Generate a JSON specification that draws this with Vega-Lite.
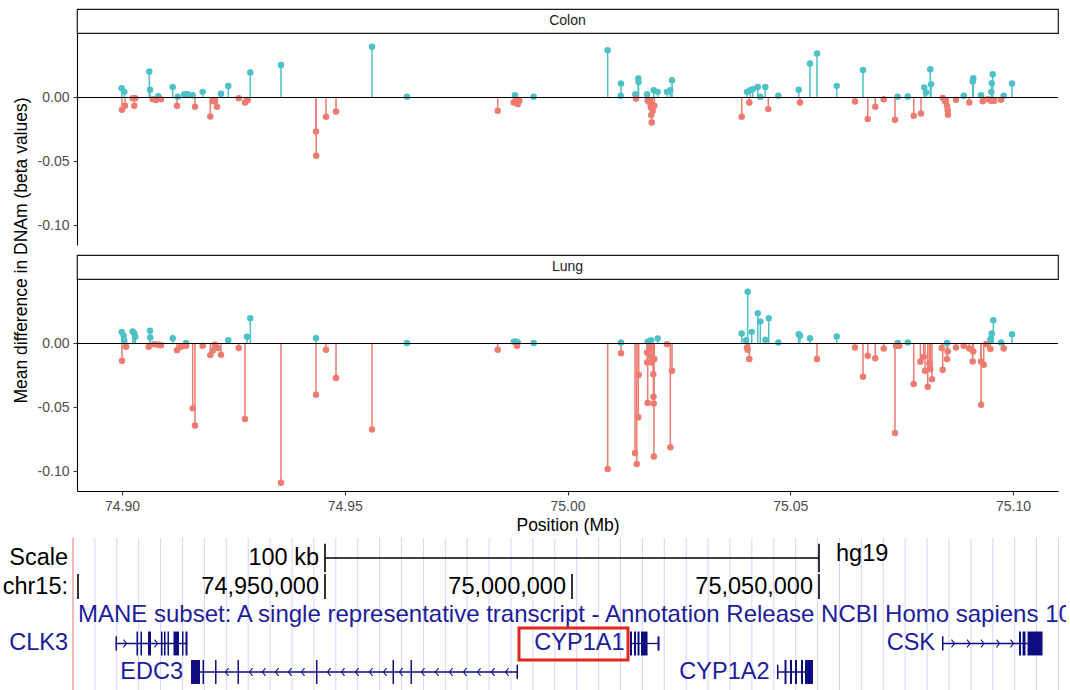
{
"$schema": "https://vega.github.io/schema/vega-lite/v6.json",
"padding": {"left": 2, "top": 8, "right": 0, "bottom": 0},
"config": {
  "font": "Liberation Sans",
  "view": {"stroke": null},
  "axis": {"grid": false, "domainColor": "#000000", "domainWidth": 1.1, "tickColor": "#333333", "tickWidth": 1.1, "tickSize": 4, "labelColor": "#4d4d4d", "labelFontSize": 14, "labelPadding": 4, "labelFont": "Liberation Sans", "titleFont": "Liberation Sans", "titleFontSize": 17.5, "titleFontWeight": "normal", "titleColor": "#000000"}
},
"datasets": {
  "pts": [
    {"t":"Colon","p":74.89993,"v":0.0073,"d":"up"},{"t":"Colon","p":74.90052,"v":0.0044,"d":"up"},{"t":"Colon","p":74.90613,"v":0.0203,"d":"up"},{"t":"Colon","p":74.90629,"v":0.0060,"d":"up"},{"t":"Colon","p":74.90815,"v":0.0010,"d":"up"},{"t":"Colon","p":74.91138,"v":0.0083,"d":"up"},{"t":"Colon","p":74.9125,"v":0.0005,"d":"up"},{"t":"Colon","p":74.91398,"v":0.0026,"d":"up"},{"t":"Colon","p":74.91475,"v":0.0026,"d":"up"},{"t":"Colon","p":74.91587,"v":0.0018,"d":"up"},{"t":"Colon","p":74.91811,"v":0.0044,"d":"up"},{"t":"Colon","p":74.92222,"v":0.0030,"d":"up"},{"t":"Colon","p":74.92386,"v":0.0090,"d":"up"},{"t":"Colon","p":74.9288,"v":0.0195,"d":"up"},{"t":"Colon","p":74.93569,"v":0.0255,"d":"up"},{"t":"Colon","p":74.95612,"v":0.0398,"d":"up"},{"t":"Colon","p":74.96397,"v":0.0005,"d":"up"},{"t":"Colon","p":74.98822,"v":0.0018,"d":"up"},{"t":"Colon","p":74.99241,"v":0.0005,"d":"up"},{"t":"Colon","p":75.00902,"v":0.0370,"d":"up"},{"t":"Colon","p":75.01201,"v":0.0109,"d":"up"},{"t":"Colon","p":75.01195,"v":0.0013,"d":"up"},{"t":"Colon","p":75.01589,"v":0.0148,"d":"up"},{"t":"Colon","p":75.01595,"v":0.0122,"d":"up"},{"t":"Colon","p":75.01522,"v":0.0026,"d":"up"},{"t":"Colon","p":75.01785,"v":0.0026,"d":"up"},{"t":"Colon","p":75.01935,"v":0.0057,"d":"up"},{"t":"Colon","p":75.02025,"v":0.0044,"d":"up"},{"t":"Colon","p":75.02233,"v":0.0044,"d":"up"},{"t":"Colon","p":75.02308,"v":0.0057,"d":"up"},{"t":"Colon","p":75.02346,"v":0.0135,"d":"up"},{"t":"Colon","p":75.04029,"v":0.0044,"d":"up"},{"t":"Colon","p":75.04103,"v":0.0057,"d":"up"},{"t":"Colon","p":75.04157,"v":0.0065,"d":"up"},{"t":"Colon","p":75.0427,"v":0.0083,"d":"up"},{"t":"Colon","p":75.04328,"v":0.0005,"d":"up"},{"t":"Colon","p":75.0444,"v":0.0083,"d":"up"},{"t":"Colon","p":75.04732,"v":0.0013,"d":"up"},{"t":"Colon","p":75.0519,"v":0.0060,"d":"up"},{"t":"Colon","p":75.05443,"v":0.0266,"d":"up"},{"t":"Colon","p":75.056,"v":0.0344,"d":"up"},{"t":"Colon","p":75.06043,"v":0.0091,"d":"up"},{"t":"Colon","p":75.06633,"v":0.0216,"d":"up"},{"t":"Colon","p":75.07412,"v":0.0005,"d":"up"},{"t":"Colon","p":75.07637,"v":0.0008,"d":"up"},{"t":"Colon","p":75.08009,"v":0.0078,"d":"up"},{"t":"Colon","p":75.08047,"v":0.0039,"d":"up"},{"t":"Colon","p":75.08144,"v":0.0221,"d":"up"},{"t":"Colon","p":75.0816,"v":0.0104,"d":"up"},{"t":"Colon","p":75.08894,"v":0.0013,"d":"up"},{"t":"Colon","p":75.09095,"v":0.0125,"d":"up"},{"t":"Colon","p":75.09109,"v":0.0151,"d":"up"},{"t":"Colon","p":75.09282,"v":0.0018,"d":"up"},{"t":"Colon","p":75.09522,"v":0.0112,"d":"up"},{"t":"Colon","p":75.09515,"v":0.0044,"d":"up"},{"t":"Colon","p":75.09545,"v":0.0182,"d":"up"},{"t":"Colon","p":75.09791,"v":0.0013,"d":"up"},{"t":"Colon","p":75.09978,"v":0.0109,"d":"up"},
    {"t":"Colon","p":74.9,"v":-0.0096,"d":"down"},{"t":"Colon","p":74.90067,"v":-0.0065,"d":"down"},{"t":"Colon","p":74.9024,"v":-0.0005,"d":"down"},{"t":"Colon","p":74.90276,"v":-0.0065,"d":"down"},{"t":"Colon","p":74.90299,"v":-0.0005,"d":"down"},{"t":"Colon","p":74.90689,"v":-0.0013,"d":"down"},{"t":"Colon","p":74.90763,"v":-0.0020,"d":"down"},{"t":"Colon","p":74.90875,"v":-0.0013,"d":"down"},{"t":"Colon","p":74.91235,"v":-0.0065,"d":"down"},{"t":"Colon","p":74.91639,"v":-0.0073,"d":"down"},{"t":"Colon","p":74.91982,"v":-0.0148,"d":"down"},{"t":"Colon","p":74.92036,"v":-0.0030,"d":"down"},{"t":"Colon","p":74.92088,"v":-0.0026,"d":"down"},{"t":"Colon","p":74.92132,"v":-0.0073,"d":"down"},{"t":"Colon","p":74.9262,"v":-0.0005,"d":"down"},{"t":"Colon","p":74.92761,"v":-0.0040,"d":"down"},{"t":"Colon","p":74.92822,"v":-0.0020,"d":"down"},{"t":"Colon","p":74.94355,"v":-0.0266,"d":"down"},{"t":"Colon","p":74.9436,"v":-0.0456,"d":"down"},{"t":"Colon","p":74.94579,"v":-0.0151,"d":"down"},{"t":"Colon","p":74.94804,"v":-0.0109,"d":"down"},{"t":"Colon","p":74.98433,"v":-0.0104,"d":"down"},{"t":"Colon","p":74.98792,"v":-0.0040,"d":"down"},{"t":"Colon","p":74.98844,"v":-0.0020,"d":"down"},{"t":"Colon","p":74.98882,"v":-0.0052,"d":"down"},{"t":"Colon","p":74.98918,"v":-0.0026,"d":"down"},{"t":"Colon","p":75.01538,"v":-0.0008,"d":"down"},{"t":"Colon","p":75.018,"v":-0.0026,"d":"down"},{"t":"Colon","p":75.01859,"v":-0.0047,"d":"down"},{"t":"Colon","p":75.01874,"v":-0.0078,"d":"down"},{"t":"Colon","p":75.01913,"v":-0.0104,"d":"down"},{"t":"Colon","p":75.0188,"v":-0.0138,"d":"down"},{"t":"Colon","p":75.0189,"v":-0.0195,"d":"down"},{"t":"Colon","p":75.01949,"v":-0.0065,"d":"down"},{"t":"Colon","p":75.0391,"v":-0.0151,"d":"down"},{"t":"Colon","p":75.04081,"v":-0.0040,"d":"down"},{"t":"Colon","p":75.04507,"v":-0.0091,"d":"down"},{"t":"Colon","p":75.05219,"v":-0.0040,"d":"down"},{"t":"Colon","p":75.06453,"v":-0.0031,"d":"down"},{"t":"Colon","p":75.06739,"v":-0.0169,"d":"down"},{"t":"Colon","p":75.06909,"v":-0.0073,"d":"down"},{"t":"Colon","p":75.07098,"v":-0.0013,"d":"down"},{"t":"Colon","p":75.07351,"v":-0.0174,"d":"down"},{"t":"Colon","p":75.07771,"v":-0.0143,"d":"down"},{"t":"Colon","p":75.07935,"v":-0.0125,"d":"down"},{"t":"Colon","p":75.08422,"v":-0.0003,"d":"down"},{"t":"Colon","p":75.08474,"v":-0.0030,"d":"down"},{"t":"Colon","p":75.08519,"v":-0.0065,"d":"down"},{"t":"Colon","p":75.08534,"v":-0.0099,"d":"down"},{"t":"Colon","p":75.0854,"v":-0.0135,"d":"down"},{"t":"Colon","p":75.08721,"v":-0.0018,"d":"down"},{"t":"Colon","p":75.09019,"v":-0.0040,"d":"down"},{"t":"Colon","p":75.0932,"v":-0.0030,"d":"down"},{"t":"Colon","p":75.09432,"v":-0.0013,"d":"down"},{"t":"Colon","p":75.09506,"v":-0.0026,"d":"down"},{"t":"Colon","p":75.09581,"v":-0.0026,"d":"down"},{"t":"Colon","p":75.09731,"v":-0.0018,"d":"down"},
    {"t":"Lung","p":74.89993,"v":0.0091,"d":"up"},{"t":"Lung","p":74.90038,"v":0.0060,"d":"up"},{"t":"Lung","p":74.90052,"v":0.0021,"d":"up"},{"t":"Lung","p":74.9024,"v":0.0094,"d":"up"},{"t":"Lung","p":74.90276,"v":0.0081,"d":"up"},{"t":"Lung","p":74.90299,"v":0.0052,"d":"up"},{"t":"Lung","p":74.90629,"v":0.0099,"d":"up"},{"t":"Lung","p":74.90635,"v":0.0047,"d":"up"},{"t":"Lung","p":74.91138,"v":0.0042,"d":"up"},{"t":"Lung","p":74.91437,"v":0.0003,"d":"up"},{"t":"Lung","p":74.92386,"v":0.0026,"d":"up"},{"t":"Lung","p":74.92806,"v":0.0052,"d":"up"},{"t":"Lung","p":74.9288,"v":0.0198,"d":"up"},{"t":"Lung","p":74.94355,"v":0.0042,"d":"up"},{"t":"Lung","p":74.96397,"v":0.0003,"d":"up"},{"t":"Lung","p":74.98792,"v":0.0013,"d":"up"},{"t":"Lung","p":74.98844,"v":0.0016,"d":"up"},{"t":"Lung","p":74.98882,"v":0.0008,"d":"up"},{"t":"Lung","p":74.99241,"v":0.0003,"d":"up"},{"t":"Lung","p":75.01201,"v":0.0008,"d":"up"},{"t":"Lung","p":75.018,"v":0.0013,"d":"up"},{"t":"Lung","p":75.01874,"v":0.0026,"d":"up"},{"t":"Lung","p":75.02025,"v":0.0039,"d":"up"},{"t":"Lung","p":75.0391,"v":0.0078,"d":"up"},{"t":"Lung","p":75.04045,"v":0.0406,"d":"up"},{"t":"Lung","p":75.04007,"v":0.0026,"d":"up"},{"t":"Lung","p":75.04135,"v":0.0091,"d":"up"},{"t":"Lung","p":75.0427,"v":0.0237,"d":"up"},{"t":"Lung","p":75.04328,"v":0.0172,"d":"up"},{"t":"Lung","p":75.0444,"v":0.0029,"d":"up"},{"t":"Lung","p":75.04517,"v":0.0198,"d":"up"},{"t":"Lung","p":75.04732,"v":0.0008,"d":"up"},{"t":"Lung","p":75.0519,"v":0.0073,"d":"up"},{"t":"Lung","p":75.05219,"v":0.0060,"d":"up"},{"t":"Lung","p":75.05443,"v":0.0042,"d":"up"},{"t":"Lung","p":75.06043,"v":0.0055,"d":"up"},{"t":"Lung","p":75.07412,"v":0.0003,"d":"up"},{"t":"Lung","p":75.07637,"v":0.0008,"d":"up"},{"t":"Lung","p":75.08519,"v":0.0003,"d":"up"},{"t":"Lung","p":75.09491,"v":0.0034,"d":"up"},{"t":"Lung","p":75.09522,"v":0.0078,"d":"up"},{"t":"Lung","p":75.09558,"v":0.0182,"d":"up"},{"t":"Lung","p":75.09731,"v":0.0008,"d":"up"},{"t":"Lung","p":75.09978,"v":0.0073,"d":"up"},
    {"t":"Lung","p":74.9,"v":-0.0135,"d":"down"},{"t":"Lung","p":74.9009,"v":-0.0026,"d":"down"},{"t":"Lung","p":74.90599,"v":-0.0026,"d":"down"},{"t":"Lung","p":74.90725,"v":-0.0005,"d":"down"},{"t":"Lung","p":74.90801,"v":-0.0010,"d":"down"},{"t":"Lung","p":74.90875,"v":-0.0013,"d":"down"},{"t":"Lung","p":74.91235,"v":-0.0052,"d":"down"},{"t":"Lung","p":74.91324,"v":-0.0026,"d":"down"},{"t":"Lung","p":74.91437,"v":-0.0018,"d":"down"},{"t":"Lung","p":74.91587,"v":-0.0508,"d":"down"},{"t":"Lung","p":74.91639,"v":-0.0643,"d":"down"},{"t":"Lung","p":74.91811,"v":-0.0018,"d":"down"},{"t":"Lung","p":74.91982,"v":-0.0091,"d":"down"},{"t":"Lung","p":74.92036,"v":-0.0057,"d":"down"},{"t":"Lung","p":74.92088,"v":-0.0010,"d":"down"},{"t":"Lung","p":74.92148,"v":-0.0036,"d":"down"},{"t":"Lung","p":74.92222,"v":-0.0089,"d":"down"},{"t":"Lung","p":74.9262,"v":-0.0036,"d":"down"},{"t":"Lung","p":74.92761,"v":-0.0591,"d":"down"},{"t":"Lung","p":74.93569,"v":-0.1091,"d":"down"},{"t":"Lung","p":74.94579,"v":-0.0049,"d":"down"},{"t":"Lung","p":74.94804,"v":-0.0271,"d":"down"},{"t":"Lung","p":74.94355,"v":-0.0401,"d":"down"},{"t":"Lung","p":74.95612,"v":-0.0674,"d":"down"},{"t":"Lung","p":74.98433,"v":-0.0049,"d":"down"},{"t":"Lung","p":74.98866,"v":-0.0018,"d":"down"},{"t":"Lung","p":75.00902,"v":-0.0982,"d":"down"},{"t":"Lung","p":75.01201,"v":-0.0076,"d":"down"},{"t":"Lung","p":75.01516,"v":-0.0857,"d":"down"},{"t":"Lung","p":75.01554,"v":-0.0943,"d":"down"},{"t":"Lung","p":75.01589,"v":-0.0578,"d":"down"},{"t":"Lung","p":75.01599,"v":-0.0247,"d":"down"},{"t":"Lung","p":75.01785,"v":-0.0070,"d":"down"},{"t":"Lung","p":75.0179,"v":-0.0148,"d":"down"},{"t":"Lung","p":75.018,"v":-0.0466,"d":"down"},{"t":"Lung","p":75.01859,"v":-0.0031,"d":"down"},{"t":"Lung","p":75.01874,"v":-0.0104,"d":"down"},{"t":"Lung","p":75.0189,"v":-0.0148,"d":"down"},{"t":"Lung","p":75.01926,"v":-0.0240,"d":"down"},{"t":"Lung","p":75.0193,"v":-0.0417,"d":"down"},{"t":"Lung","p":75.01935,"v":-0.0469,"d":"down"},{"t":"Lung","p":75.0194,"v":-0.0885,"d":"down"},{"t":"Lung","p":75.01949,"v":-0.0122,"d":"down"},{"t":"Lung","p":75.02233,"v":-0.0005,"d":"down"},{"t":"Lung","p":75.02346,"v":-0.0214,"d":"down"},{"t":"Lung","p":75.02308,"v":-0.0813,"d":"down"},{"t":"Lung","p":75.04029,"v":-0.0031,"d":"down"},{"t":"Lung","p":75.04045,"v":-0.0049,"d":"down"},{"t":"Lung","p":75.04081,"v":-0.0122,"d":"down"},{"t":"Lung","p":75.056,"v":-0.0122,"d":"down"},{"t":"Lung","p":75.06453,"v":-0.0031,"d":"down"},{"t":"Lung","p":75.06633,"v":-0.0260,"d":"down"},{"t":"Lung","p":75.06739,"v":-0.0096,"d":"down"},{"t":"Lung","p":75.06909,"v":-0.0115,"d":"down"},{"t":"Lung","p":75.07098,"v":-0.0039,"d":"down"},{"t":"Lung","p":75.07351,"v":-0.0700,"d":"down"},{"t":"Lung","p":75.07374,"v":-0.0018,"d":"down"},{"t":"Lung","p":75.07448,"v":-0.0018,"d":"down"},{"t":"Lung","p":75.07771,"v":-0.0318,"d":"down"},{"t":"Lung","p":75.0792,"v":-0.0143,"d":"down"},{"t":"Lung","p":75.07996,"v":-0.0104,"d":"down"},{"t":"Lung","p":75.08025,"v":-0.0214,"d":"down"},{"t":"Lung","p":75.08086,"v":-0.0339,"d":"down"},{"t":"Lung","p":75.08122,"v":-0.0156,"d":"down"},{"t":"Lung","p":75.08144,"v":-0.0201,"d":"down"},{"t":"Lung","p":75.08182,"v":-0.0279,"d":"down"},{"t":"Lung","p":75.084,"v":-0.0036,"d":"down"},{"t":"Lung","p":75.08422,"v":-0.0206,"d":"down"},{"t":"Lung","p":75.08519,"v":-0.0122,"d":"down"},{"t":"Lung","p":75.08534,"v":-0.0063,"d":"down"},{"t":"Lung","p":75.08721,"v":-0.0031,"d":"down"},{"t":"Lung","p":75.08894,"v":-0.0018,"d":"down"},{"t":"Lung","p":75.09019,"v":-0.0039,"d":"down"},{"t":"Lung","p":75.09095,"v":-0.0141,"d":"down"},{"t":"Lung","p":75.09109,"v":-0.0063,"d":"down"},{"t":"Lung","p":75.09282,"v":-0.0141,"d":"down"},{"t":"Lung","p":75.09343,"v":-0.0167,"d":"down"},{"t":"Lung","p":75.09285,"v":-0.0479,"d":"down"},{"t":"Lung","p":75.09394,"v":-0.0005,"d":"down"},{"t":"Lung","p":75.09491,"v":-0.0044,"d":"down"},{"t":"Lung","p":75.09791,"v":-0.0039,"d":"down"}
  ],
  "grid": [
    {"x":74.90342},{"x":74.90786},{"x":74.91229},{"x":74.91672},{"x":74.92116},{"x":74.92559},{"x":74.93002},{"x":74.93445},{"x":74.93889},{"x":74.94332},{"x":74.94775},{"x":74.95219},{"x":74.95662},{"x":74.96105},{"x":74.96549},{"x":74.96992},{"x":74.97435},{"x":74.97878},{"x":74.98322},{"x":74.98765},{"x":74.99208},{"x":74.99652},{"x":75.00095},{"x":75.00538},{"x":75.00982},{"x":75.01425},{"x":75.01868},{"x":75.02311},{"x":75.02755},{"x":75.03198},{"x":75.03641},{"x":75.04085},{"x":75.04528},{"x":75.04971},{"x":75.05415},{"x":75.05858},{"x":75.06301},{"x":75.06744},{"x":75.07188},{"x":75.07631},{"x":75.08074},{"x":75.08518},{"x":75.08961},{"x":75.09404},{"x":75.09848}
  ]
},
"bounds": "flush",
"spacing": 0,
"resolve": {"scale": {"x": "independent", "y": "independent", "color": "independent", "shape": "independent"}},
"vconcat": [
  {
    "width": 981, "height": 24,
    "view": {"stroke": "#1a1a1a", "strokeWidth": 1.2, "fill": "#ffffff"},
    "data": {"values": [{"t": "Colon"}]},
    "mark": {"type": "text", "fontSize": 14, "color": "#1a1a1a", "baseline": "middle", "font": "Liberation Sans"},
    "encoding": {"text": {"field": "t"}}
  },
  {
    "width": 981, "height": 212,
    "data": {"name": "pts"},
    "transform": [{"filter": "datum.t == 'Colon'"}],
    "layer": [
      {
        "mark": {"type": "rule", "strokeWidth": 1.5},
        "encoding": {
          "x": {"field": "p", "type": "quantitative", "scale": {"domain": [74.8899, 75.1101], "nice": false, "zero": false}, "axis": null},
          "y": {"field": "v", "type": "quantitative", "scale": {"domain": [-0.1155, 0.0505], "nice": false, "zero": false}, "axis": {"values": [-0.1, -0.05, 0], "labelExpr": "replace(format(datum.value, '.2f'), '\u2212', '-')", "title": null}},
          "y2": {"datum": 0},
          "color": {"field": "d", "type": "nominal", "scale": {"domain": ["down", "up"], "range": ["#EC7B70", "#4EC0C7"]}, "legend": null}
        }
      },
      {
        "mark": {"type": "circle", "size": 42, "opacity": 1},
        "encoding": {
          "x": {"field": "p", "type": "quantitative"},
          "y": {"field": "v", "type": "quantitative"},
          "color": {"field": "d", "type": "nominal", "scale": {"domain": ["down", "up"], "range": ["#EC7B70", "#4EC0C7"]}, "legend": null}
        }
      },
      {
        "data": {"values": [{}]},
        "mark": {"type": "rule", "color": "#000000", "strokeWidth": 1.2},
        "encoding": {"y": {"datum": 0}}
      }
    ]
  },
  {
    "width": 981, "height": 10,
    "data": {"values": []},
    "mark": {"type": "point"},
    "encoding": {}
  },
  {
    "width": 981, "height": 24,
    "view": {"stroke": "#1a1a1a", "strokeWidth": 1.2, "fill": "#ffffff"},
    "data": {"values": [{"t": "Lung"}]},
    "mark": {"type": "text", "fontSize": 14, "color": "#1a1a1a", "baseline": "middle", "font": "Liberation Sans"},
    "encoding": {"text": {"field": "t"}}
  },
  {
    "width": 981, "height": 212,
    "data": {"name": "pts"},
    "transform": [{"filter": "datum.t == 'Lung'"}],
    "layer": [
      {
        "mark": {"type": "rule", "strokeWidth": 1.5},
        "encoding": {
          "x": {"field": "p", "type": "quantitative", "scale": {"domain": [74.8899, 75.1101], "nice": false, "zero": false}, "axis": {"values": [74.9, 74.95, 75, 75.05, 75.1], "format": ".2f", "title": "Position (Mb)", "titlePadding": 3}},
          "y": {"field": "v", "type": "quantitative", "scale": {"domain": [-0.1155, 0.0505], "nice": false, "zero": false}, "axis": {"values": [-0.1, -0.05, 0], "labelExpr": "replace(format(datum.value, '.2f'), '\u2212', '-')", "title": "Mean difference in DNAm (beta values)", "titleX": -56, "titleY": -29, "titleAngle": -90, "titleAlign": "center", "titleBaseline": "middle"}},
          "y2": {"datum": 0},
          "color": {"field": "d", "type": "nominal", "scale": {"domain": ["down", "up"], "range": ["#EC7B70", "#4EC0C7"]}, "legend": null}
        }
      },
      {
        "mark": {"type": "circle", "size": 42, "opacity": 1},
        "encoding": {
          "x": {"field": "p", "type": "quantitative"},
          "y": {"field": "v", "type": "quantitative"},
          "color": {"field": "d", "type": "nominal", "scale": {"domain": ["down", "up"], "range": ["#EC7B70", "#4EC0C7"]}, "legend": null}
        }
      },
      {
        "data": {"values": [{}]},
        "mark": {"type": "rule", "color": "#000000", "strokeWidth": 1.2},
        "encoding": {"y": {"datum": 0}}
      }
    ]
  },
  {
    "width": 981, "height": 47,
    "data": {"values": []},
    "mark": {"type": "point"},
    "encoding": {}
  },
  {
    "width": 989, "height": 153,
    "layer": [
      {
        "data": {"name": "grid"},
        "mark": {"type": "rule", "color": "#d4d4f7", "strokeWidth": 1},
        "encoding": {"x": {"field": "x", "type": "quantitative", "scale": {"domain": [74.8998, 75.1], "nice": false, "zero": false}, "axis": null}}
      },
      {
        "data": {"values": [{"x": 74.89899}]},
        "mark": {"type": "rule", "color": "#f2a2a2", "strokeWidth": 1.5},
        "encoding": {"x": {"field": "x", "type": "quantitative", "scale": {"domain": [74.8998, 75.1], "nice": false, "zero": false}, "axis": null}}
      },
      {
        "data": {"values": [
          {"x1": 74.95, "x2": 75.05, "y1": 1, "y2": 1},
          {"x1": 74.95, "x2": 74.95, "y1": 0.5, "y2": 1.5},
          {"x1": 75.05, "x2": 75.05, "y1": 0.5, "y2": 1.5},
          {"x1": 74.9, "x2": 74.9, "y1": 1.56, "y2": 2.44},
          {"x1": 74.95, "x2": 74.95, "y1": 1.56, "y2": 2.44},
          {"x1": 75.0, "x2": 75.0, "y1": 1.56, "y2": 2.44},
          {"x1": 75.05, "x2": 75.05, "y1": 1.56, "y2": 2.44}
        ]},
        "mark": {"type": "rule", "color": "#000000", "strokeWidth": 1.6},
        "encoding": {
          "x": {"field": "x1", "type": "quantitative", "scale": {"domain": [74.8998, 75.1], "nice": false, "zero": false}, "axis": null},
          "x2": {"field": "x2"},
          "y": {"field": "y1", "type": "quantitative", "scale": {"domain": [0.298, 5.667], "reverse": true, "nice": false, "zero": false}, "axis": null},
          "y2": {"field": "y2"}
        }
      },
      {
        "data": {"values": [
          {"g": "CLK3", "x1": 74.90761, "x2": 74.92217, "row": 4},
          {"g": "EDC3", "x1": 74.9247, "x2": 74.98897, "row": 5},
          {"g": "CYP1A1", "x1": 75.01174, "x2": 75.01772, "row": 4},
          {"g": "CYP1A2", "x1": 75.0415, "x2": 75.04879, "row": 5},
          {"g": "CSK", "x1": 75.0749, "x2": 75.09221, "row": 4}
        ]},
        "mark": {"type": "rule", "color": "#0d0d80", "strokeWidth": 1.3},
        "encoding": {
          "x": {"field": "x1", "type": "quantitative", "scale": {"domain": [74.8998, 75.1], "nice": false, "zero": false}, "axis": null},
          "x2": {"field": "x2"},
          "y": {"field": "row", "type": "quantitative", "scale": {"domain": [0.298, 5.667], "reverse": true, "nice": false, "zero": false}, "axis": null}
        }
      },
      {
        "data": {"values": [
          {"x1": 74.90759, "x2": 74.9079, "y1": 3.75, "y2": 4.25},
          {"x1": 74.91184, "x2": 74.91215, "y1": 3.58, "y2": 4.42},
          {"x1": 74.91265, "x2": 74.91296, "y1": 3.58, "y2": 4.42},
          {"x1": 74.91417, "x2": 74.91478, "y1": 3.58, "y2": 4.42},
          {"x1": 74.9168, "x2": 74.91711, "y1": 3.58, "y2": 4.42},
          {"x1": 74.91741, "x2": 74.91772, "y1": 3.58, "y2": 4.42},
          {"x1": 74.91812, "x2": 74.91842, "y1": 3.58, "y2": 4.42},
          {"x1": 74.91933, "x2": 74.92045, "y1": 3.58, "y2": 4.42},
          {"x1": 74.92106, "x2": 74.92136, "y1": 3.58, "y2": 4.42},
          {"x1": 74.92176, "x2": 74.92217, "y1": 3.58, "y2": 4.42},
          {"x1": 74.92288, "x2": 74.9247, "y1": 4.58, "y2": 5.42},
          {"x1": 74.92521, "x2": 74.92551, "y1": 4.58, "y2": 5.42},
          {"x1": 74.92774, "x2": 74.92804, "y1": 4.58, "y2": 5.42},
          {"x1": 74.93229, "x2": 74.93259, "y1": 4.58, "y2": 5.42},
          {"x1": 74.94818, "x2": 74.94848, "y1": 4.58, "y2": 5.42},
          {"x1": 74.96367, "x2": 74.96397, "y1": 4.58, "y2": 5.42},
          {"x1": 74.96731, "x2": 74.96761, "y1": 4.58, "y2": 5.42},
          {"x1": 74.98877, "x2": 74.98907, "y1": 4.75, "y2": 5.25},
          {"x1": 75.01174, "x2": 75.01215, "y1": 3.58, "y2": 4.42},
          {"x1": 75.01255, "x2": 75.01296, "y1": 3.58, "y2": 4.42},
          {"x1": 75.01326, "x2": 75.01367, "y1": 3.58, "y2": 4.42},
          {"x1": 75.01397, "x2": 75.01529, "y1": 3.58, "y2": 4.42},
          {"x1": 75.01731, "x2": 75.01772, "y1": 3.75, "y2": 4.25},
          {"x1": 75.0415, "x2": 75.0418, "y1": 4.75, "y2": 5.25},
          {"x1": 75.04302, "x2": 75.04342, "y1": 4.58, "y2": 5.42},
          {"x1": 75.04413, "x2": 75.04454, "y1": 4.58, "y2": 5.42},
          {"x1": 75.04514, "x2": 75.04555, "y1": 4.58, "y2": 5.42},
          {"x1": 75.04636, "x2": 75.04676, "y1": 4.58, "y2": 5.42},
          {"x1": 75.04717, "x2": 75.04879, "y1": 4.58, "y2": 5.42},
          {"x1": 75.0749, "x2": 75.0752, "y1": 3.75, "y2": 4.25},
          {"x1": 75.09049, "x2": 75.09089, "y1": 3.58, "y2": 4.42},
          {"x1": 75.0912, "x2": 75.0918, "y1": 3.58, "y2": 4.42},
          {"x1": 75.09221, "x2": 75.09525, "y1": 3.58, "y2": 4.42}
        ]},
        "mark": {"type": "rect", "color": "#0d0d80"},
        "encoding": {
          "x": {"field": "x1", "type": "quantitative", "scale": {"domain": [74.8998, 75.1], "nice": false, "zero": false}, "axis": null},
          "x2": {"field": "x2"},
          "y": {"field": "y1", "type": "quantitative", "scale": {"domain": [0.298, 5.667], "reverse": true, "nice": false, "zero": false}, "axis": null},
          "y2": {"field": "y2"}
        }
      },
      {
        "data": {"values": [
          {"x": 74.90952, "row": 4, "s": ">"}, {"x": 74.91579, "row": 4, "s": ">"},
          {"x": 74.93016, "row": 5, "s": "<"}, {"x": 74.93502, "row": 5, "s": "<"}, {"x": 74.93765, "row": 5, "s": "<"}, {"x": 74.94029, "row": 5, "s": "<"}, {"x": 74.94292, "row": 5, "s": "<"}, {"x": 74.94555, "row": 5, "s": "<"}, {"x": 74.95081, "row": 5, "s": "<"}, {"x": 74.95365, "row": 5, "s": "<"}, {"x": 74.95648, "row": 5, "s": "<"}, {"x": 74.95931, "row": 5, "s": "<"}, {"x": 74.96215, "row": 5, "s": "<"}, {"x": 74.96539, "row": 5, "s": "<"}, {"x": 74.96984, "row": 5, "s": "<"}, {"x": 74.97267, "row": 5, "s": "<"}, {"x": 74.97551, "row": 5, "s": "<"}, {"x": 74.97834, "row": 5, "s": "<"}, {"x": 74.98118, "row": 5, "s": "<"}, {"x": 74.98401, "row": 5, "s": "<"}, {"x": 74.98685, "row": 5, "s": "<"},
          {"x": 75.07713, "row": 4, "s": ">"}, {"x": 75.08027, "row": 4, "s": ">"}, {"x": 75.0831, "row": 4, "s": ">"}, {"x": 75.08624, "row": 4, "s": ">"}, {"x": 75.08907, "row": 4, "s": ">"}
        ]},
        "mark": {"type": "point", "filled": false, "size": 60, "strokeWidth": 1.1, "color": "#0d0d80", "opacity": 1},
        "encoding": {
          "x": {"field": "x", "type": "quantitative", "scale": {"domain": [74.8998, 75.1], "nice": false, "zero": false}, "axis": null},
          "y": {"field": "row", "type": "quantitative", "scale": {"domain": [0.298, 5.667], "reverse": true, "nice": false, "zero": false}, "axis": null},
          "shape": {"field": "s", "type": "nominal", "scale": {"domain": [">", "<"], "range": ["M-0.4,-1L0.4,0L-0.4,1", "M0.4,-1L-0.4,0L0.4,1"]}, "legend": null}
        }
      },
      {
        "data": {"values": [{"label": "Scale", "x": 74.89899, "row": 1}, {"label": "chr15:", "x": 74.89899, "row": 2}]},
        "mark": {"type": "text", "align": "right", "baseline": "middle", "dx": -5, "fontSize": 23.5, "color": "#000000", "font": "Liberation Sans"},
        "encoding": {
          "x": {"field": "x", "type": "quantitative", "scale": {"domain": [74.8998, 75.1], "nice": false, "zero": false}, "axis": null},
          "y": {"field": "row", "type": "quantitative", "scale": {"domain": [0.298, 5.667], "reverse": true, "nice": false, "zero": false}, "axis": null},
          "text": {"field": "label"}
        }
      },
      {
        "data": {"values": [{"label": "CLK3", "x": 74.89899, "row": 4}]},
        "mark": {"type": "text", "align": "right", "baseline": "middle", "dx": -5, "fontSize": 23.5, "color": "#1c1c9a", "font": "Liberation Sans"},
        "encoding": {
          "x": {"field": "x", "type": "quantitative", "scale": {"domain": [74.8998, 75.1], "nice": false, "zero": false}, "axis": null},
          "y": {"field": "row", "type": "quantitative", "scale": {"domain": [0.298, 5.667], "reverse": true, "nice": false, "zero": false}, "axis": null},
          "text": {"field": "label"}
        }
      },
      {
        "data": {"values": [
          {"label": "EDC3", "x": 74.92126, "row": 5},
          {"label": "CYP1A1", "x": 75.01063, "row": 4},
          {"label": "CYP1A2", "x": 75.03998, "row": 5},
          {"label": "CSK", "x": 75.07348, "row": 4}
        ]},
        "mark": {"type": "text", "align": "right", "baseline": "middle", "fontSize": 23.5, "color": "#1c1c9a", "font": "Liberation Sans"},
        "encoding": {
          "x": {"field": "x", "type": "quantitative", "scale": {"domain": [74.8998, 75.1], "nice": false, "zero": false}, "axis": null},
          "y": {"field": "row", "type": "quantitative", "scale": {"domain": [0.298, 5.667], "reverse": true, "nice": false, "zero": false}, "axis": null},
          "text": {"field": "label"}
        }
      },
      {
        "data": {"values": [
          {"label": "100 kb", "x": 74.95, "row": 1},
          {"label": "74,950,000", "x": 74.95, "row": 2},
          {"label": "75,000,000", "x": 75.0, "row": 2},
          {"label": "75,050,000", "x": 75.05, "row": 2}
        ]},
        "mark": {"type": "text", "align": "right", "baseline": "middle", "dx": -6, "fontSize": 23.5, "color": "#000000", "font": "Liberation Sans"},
        "encoding": {
          "x": {"field": "x", "type": "quantitative", "scale": {"domain": [74.8998, 75.1], "nice": false, "zero": false}, "axis": null},
          "y": {"field": "row", "type": "quantitative", "scale": {"domain": [0.298, 5.667], "reverse": true, "nice": false, "zero": false}, "axis": null},
          "text": {"field": "label"}
        }
      },
      {
        "data": {"values": [{"label": "hg19", "x": 75.05, "row": 1}]},
        "mark": {"type": "text", "align": "left", "baseline": "middle", "dx": 17, "dy": -4, "fontSize": 23.5, "color": "#000000", "font": "Liberation Sans"},
        "encoding": {
          "x": {"field": "x", "type": "quantitative", "scale": {"domain": [74.8998, 75.1], "nice": false, "zero": false}, "axis": null},
          "y": {"field": "row", "type": "quantitative", "scale": {"domain": [0.298, 5.667], "reverse": true, "nice": false, "zero": false}, "axis": null},
          "text": {"field": "label"}
        }
      },
      {
        "data": {"values": [{"label": "MANE subset: A single representative transcript - Annotation Release NCBI Homo sapiens 10", "x": 74.9, "row": 3}]},
        "mark": {"type": "text", "align": "left", "baseline": "middle", "fontSize": 24, "color": "#1c1c9a", "font": "Liberation Sans", "clip": true},
        "encoding": {
          "x": {"field": "x", "type": "quantitative", "scale": {"domain": [74.8998, 75.1], "nice": false, "zero": false}, "axis": null},
          "y": {"field": "row", "type": "quantitative", "scale": {"domain": [0.298, 5.667], "reverse": true, "nice": false, "zero": false}, "axis": null},
          "text": {"field": "label"}
        }
      },
      {
        "data": {"values": [{"x1": 74.98927, "x2": 75.01134, "y1": 3.456, "y2": 4.579}]},
        "mark": {"type": "rect", "fill": null, "fillOpacity": 0, "stroke": "#e0281e", "strokeWidth": 3},
        "encoding": {
          "x": {"field": "x1", "type": "quantitative", "scale": {"domain": [74.8998, 75.1], "nice": false, "zero": false}, "axis": null},
          "x2": {"field": "x2"},
          "y": {"field": "y1", "type": "quantitative", "scale": {"domain": [0.298, 5.667], "reverse": true, "nice": false, "zero": false}, "axis": null},
          "y2": {"field": "y2"}
        }
      }
    ]
  }
]
}
